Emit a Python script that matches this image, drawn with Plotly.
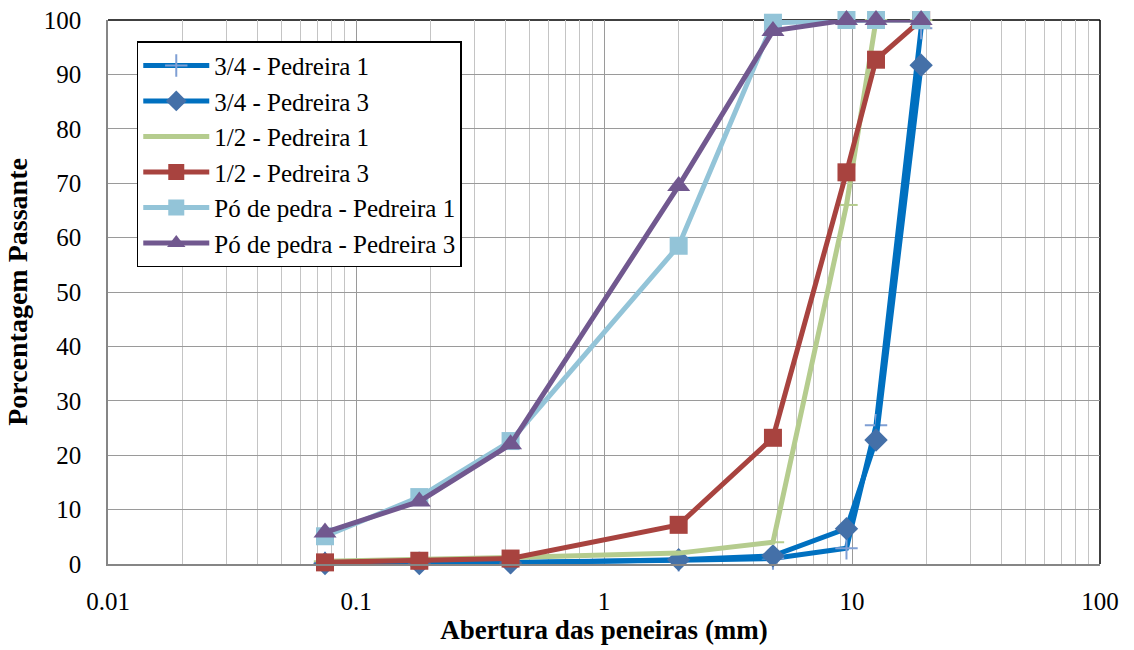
import plotly.graph_objects as go

sieves = [0.075, 0.18, 0.42, 2.0, 4.8, 9.5, 12.5, 19]

p34_1 = [0.2, 0.2, 0.3, 0.7, 1.0, 2.9, 25.5, 98.5]
p34_3 = [0.1, 0.1, 0.2, 0.8, 1.5, 6.5, 22.8, 91.7]
p12_1 = [0.5, 0.8, 1.2, 2.0, 4.0, 66.0, 100, 100]
p12_3 = [0.3, 0.6, 1.0, 7.2, 23.2, 72.0, 92.7, 100]
po_1 = [5.1, 12.3, 22.6, 58.5, 99.5, 100, 100, 100]
po_3 = [5.8, 11.5, 22.0, 69.5, 98.0, 100, 100, 100]

names = ["3/4 - Pedreira 1", "3/4 - Pedreira 3", "1/2 - Pedreira 1",
         "1/2 - Pedreira 3", "Pó de pedra - Pedreira 1", "Pó de pedra - Pedreira 3"]

x_ticks = [0.01, 0.1, 1, 10, 100]
x_ticktext = ["0.01", "0.1", "1", "10", "100"]

series = [p34_1, p34_3, p12_1, p12_3, po_1, po_3]
line_colors = ["#0070C0", "#0070C0", "#B5CC8E", "#A8433F", "#93C4D8", "#71588F"]
marker_colors = ["#7F9FD4", "#4470A8", "#B5CC8E", "#A8433F", "#93C4D8", "#71588F"]
symbols = ["cross-thin", "diamond", "line-ew", "square", "square", "triangle-up"]
msizes = [16, 18, 16, 18, 18, 20]

fig = go.Figure()
for name, ys, lc, mc, sym, ms in zip(names, series, line_colors, marker_colors, symbols, msizes):
    marker = dict(symbol=sym, size=ms, color=mc)
    if sym in ("cross-thin", "line-ew"):
        marker["line"] = dict(color=mc, width=2)
    else:
        marker["line"] = dict(width=0)
    fig.add_trace(go.Scatter(x=sieves, y=ys, name=name, mode="lines+markers",
                             line=dict(color=lc, width=5), marker=marker,
                             cliponaxis=False))

minor_vals = []
for d in [0.01, 0.1, 1, 10]:
    for k in range(2, 10):
        minor_vals.append(d * k)

font_family = "'Liberation Serif', 'Times New Roman', Times, serif"
axis_grey = "#868686"
fig.update_layout(
    width=1134, height=650,
    margin=dict(l=108, r=34, t=20, b=86),
    paper_bgcolor="white", plot_bgcolor="white",
    font=dict(family=font_family, size=25, color="black"),
    showlegend=True,
    legend=dict(x=0.029, y=0.961, xanchor="left", yanchor="top",
                bordercolor="black", borderwidth=1.5, bgcolor="white",
                font=dict(family=font_family, size=25, color="black"),
                tracegroupgap=0, itemwidth=66),
    xaxis=dict(type="log", range=[-2, 2], tickvals=x_ticks, ticktext=x_ticktext,
               tickfont=dict(family=font_family, size=25), automargin=False,
               showgrid=True, gridcolor="#9a9a9a", gridwidth=1.2,
               minor=dict(tickmode="array", tickvals=minor_vals, showgrid=True,
                          gridcolor="#c4c4c4", gridwidth=1, ticks=""),
               showline=True, linecolor=axis_grey, linewidth=1.5, mirror=False,
               ticks="outside", ticklen=14, tickcolor="rgba(0,0,0,0)",
               title=dict(text="<b>Abertura das peneiras (mm)</b>",
                          font=dict(family=font_family, size=27), standoff=6),
               zeroline=False),
    yaxis=dict(range=[0, 100], dtick=10, showgrid=True, gridcolor="#9a9a9a", gridwidth=1.2,
               tickfont=dict(family=font_family, size=25), automargin=False,
               showline=True, linecolor=axis_grey, linewidth=1.5, mirror=False,
               ticks="outside", ticklen=20, tickcolor="rgba(0,0,0,0)",
               title=dict(text="<b>Porcentagem Passante</b>",
                          font=dict(family=font_family, size=28), standoff=8),
               zeroline=False),
    shapes=[
        dict(type="line", xref="paper", yref="paper", x0=0, x1=1, y0=1, y1=1,
             line=dict(color="black", width=1.5), layer="below"),
        dict(type="line", xref="paper", yref="paper", x0=1, x1=1, y0=0, y1=1,
             line=dict(color="black", width=1.5), layer="below"),
    ],
)

fig.write_html("out.html")
